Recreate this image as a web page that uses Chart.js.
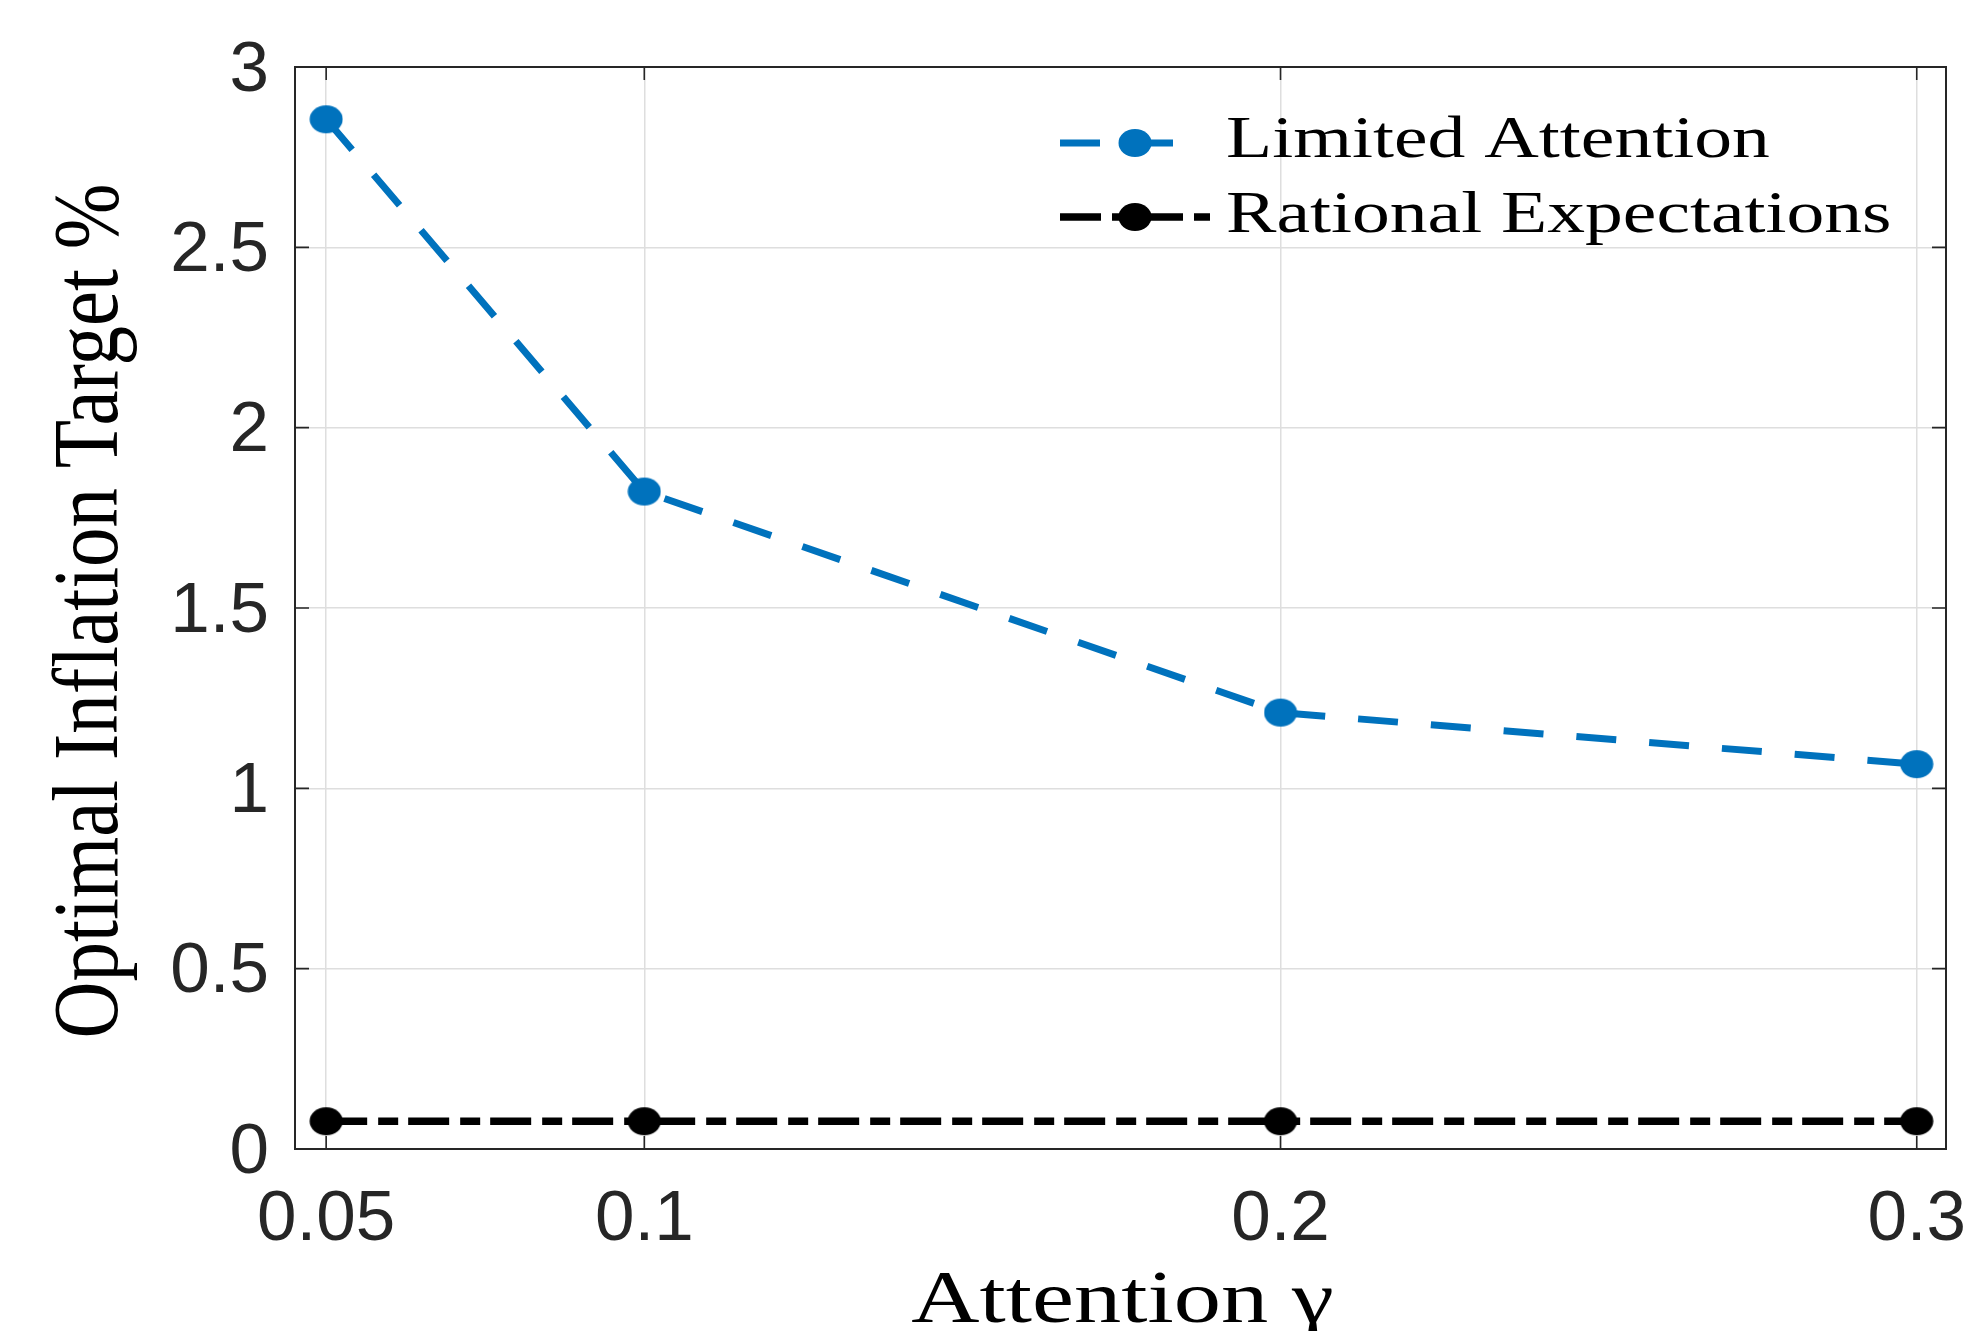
<!DOCTYPE html>
<html>
<head>
<meta charset="utf-8">
<script src="https://cdn.jsdelivr.net/npm/chart.js@4"></script>
<style>
  html, body { margin: 0; padding: 0; background: #fff; }
  canvas { display: block; }
</style>
</head>
<body>
<canvas id="targetChart" width="1984" height="1331"></canvas>
<script>
const attention = [0.05, 0.1, 0.2, 0.3];
const limitedAttention = [2.855, 1.823, 1.21, 1.067];
const rationalExpectations = [0.077, 0.077, 0.077, 0.077];
const xTicks = [0.05, 0.1, 0.2, 0.3];
const xTickLabels = ['0.05', '0.1', '0.2', '0.3'];
const yTicks = [0, 0.5, 1, 1.5, 2, 2.5, 3];
const yTickLabels = ['0', '0.5', '1', '1.5', '2', '2.5', '3'];
const seriesNames = ['Limited Attention', 'Rational Expectations'];

const blue = '#0072BD';
const black = '#000000';
const serif = '"Liberation Serif", "Times New Roman", serif';
const sans = '"Liberation Sans", Arial, sans-serif';

// markers in the source are a bit wider than tall, so draw them as ellipses
function dot(color) {
    const c = document.createElement('canvas');
    c.width = 34;
    c.height = 30;
    const g = c.getContext('2d');
    g.fillStyle = color;
    g.beginPath();
    g.ellipse(17, 15, 16.5, 14, 0, 0, Math.PI * 2);
    g.fill();
    return c;
}
const blueDot = dot(blue);
const blackDot = dot(black);

const frame = {
    id: 'frame',
    beforeDatasetsDraw(chart) {
        const { ctx, chartArea: a, scales } = chart;
        ctx.save();
        ctx.strokeStyle = '#262626';
        ctx.lineWidth = 1.6;
        ctx.beginPath();
        xTicks.forEach(v => {
            const px = scales.x.getPixelForValue(v);
            ctx.moveTo(px, a.bottom); ctx.lineTo(px, a.bottom - 13);
            ctx.moveTo(px, a.top); ctx.lineTo(px, a.top + 13);
        });
        yTicks.forEach(v => {
            const py = scales.y.getPixelForValue(v);
            ctx.moveTo(a.left, py); ctx.lineTo(a.left + 14, py);
            ctx.moveTo(a.right, py); ctx.lineTo(a.right - 14, py);
        });
        ctx.stroke();
        ctx.lineWidth = 2;
        ctx.strokeRect(a.left, a.top, a.right - a.left, a.bottom - a.top);
        ctx.restore();
    },
    afterDraw(chart) {
        const { ctx, chartArea: a } = chart;
        ctx.save();
        ctx.fillStyle = '#000';

        // x title
        ctx.font = '75px ' + serif;
        ctx.textAlign = 'center';
        ctx.textBaseline = 'alphabetic';
        ctx.save();
        ctx.translate((a.left + a.right) / 2 + 2, 1322);
        ctx.scale(1.26, 1);
        ctx.fillText('Attention γ', 0, 0);
        ctx.restore();

        // y title
        ctx.font = '79px ' + serif;
        ctx.save();
        ctx.translate(117, (a.top + a.bottom) / 2 + 3);
        ctx.scale(1.18, 1);
        ctx.rotate(-Math.PI / 2);
        ctx.fillText('Optimal Inflation Target %', 0, 0);
        ctx.restore();

        // legend
        const lineY = [143, 217];
        const lineEnd = [1198, 1210];
        const textY = [157, 232];
        const dots = [blueDot, blackDot];
        ctx.font = '60px ' + serif;
        ctx.textAlign = 'left';
        chart.data.datasets.forEach((ds, i) => {
            ctx.save();
            ctx.strokeStyle = ds.borderColor;
            ctx.lineWidth = ds.borderWidth;
            ctx.setLineDash(ds.borderDash);
            ctx.beginPath();
            ctx.moveTo(1060, lineY[i]);
            ctx.lineTo(lineEnd[i], lineY[i]);
            ctx.stroke();
            ctx.restore();
            ctx.drawImage(dots[i], 1135 - 17, lineY[i] - 15);
            ctx.save();
            ctx.translate(1226, textY[i]);
            ctx.scale(1.26, 1);
            ctx.fillText(seriesNames[i], 0, 0);
            ctx.restore();
        });
        ctx.restore();
    }
};

new Chart(document.getElementById('targetChart'), {
    type: 'line',
    data: {
        datasets: [
            {
                label: seriesNames[0],
                data: attention.map((x, i) => ({ x: x, y: limitedAttention[i] })),
                borderColor: blue,
                backgroundColor: blue,
                borderWidth: 7,
                borderDash: [40, 33],
                borderCapStyle: 'butt',
                pointStyle: blueDot,
                pointRadius: 15,
                fill: false,
                tension: 0
            },
            {
                label: seriesNames[1],
                data: attention.map((x, i) => ({ x: x, y: rationalExpectations[i] })),
                borderColor: black,
                backgroundColor: black,
                borderWidth: 7.5,
                borderDash: [41, 11, 20, 10],
                borderCapStyle: 'butt',
                pointStyle: blackDot,
                pointRadius: 15,
                fill: false,
                tension: 0
            }
        ]
    },
    options: {
        responsive: false,
        animation: false,
        layout: { padding: { top: 67, right: 38, left: 0, bottom: 0 } },
        plugins: {
            legend: { display: false },
            tooltip: { enabled: false }
        },
        scales: {
            x: {
                type: 'linear',
                min: 0.0451,
                max: 0.3046,
                afterBuildTicks: scale => { scale.ticks = xTicks.map(v => ({ value: v })); },
                afterFit: scale => {
                    scale.height = 182;
                    scale.paddingLeft = 0;
                    scale.paddingRight = 0;
                },
                grid: { color: '#dedede', lineWidth: 1.5, drawTicks: false },
                border: { display: false },
                ticks: {
                    padding: 29,
                    color: '#262626',
                    autoSkip: false,
                    maxRotation: 0,
                    font: { family: sans, size: 71 },
                    callback: (v, i) => xTickLabels[i]
                }
            },
            y: {
                min: 0,
                max: 3,
                afterBuildTicks: scale => { scale.ticks = yTicks.map(v => ({ value: v })); },
                afterFit: scale => {
                    scale.width = 295;
                    scale.paddingTop = 0;
                    scale.paddingBottom = 0;
                },
                grid: { color: '#dedede', lineWidth: 1.5, drawTicks: false },
                border: { display: false },
                ticks: {
                    padding: 26,
                    labelOffset: 4,
                    color: '#262626',
                    font: { family: sans, size: 71 },
                    callback: (v, i) => yTickLabels[i]
                }
            }
        }
    },
    plugins: [frame]
});
</script>
</body>
</html>
